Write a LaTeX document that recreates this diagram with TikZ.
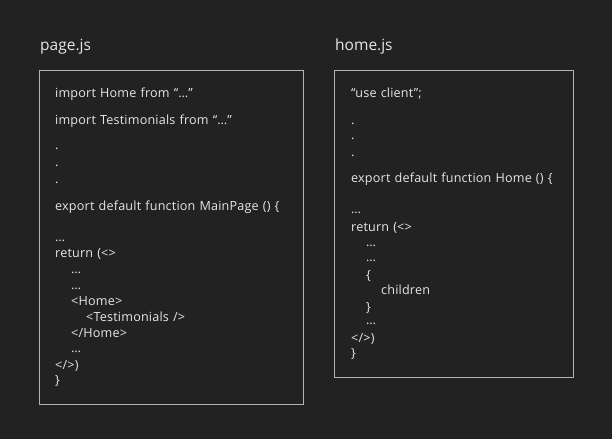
\documentclass[tikz,border=0pt]{standalone}
\usepackage{fontspec}
\setmainfont{Open Sans}
\newfontfamily\codefont[LetterSpace=1.5,WordSpace=1.2]{Open Sans}
\definecolor{bgc}{HTML}{222222}
\definecolor{txc}{HTML}{E6E6E6}
\definecolor{bdc}{HTML}{B4B4B4}
\begin{document}
\begin{tikzpicture}[x=1pt,y=-1pt,
  code/.style={anchor=base west,inner sep=0pt,text=txc,font=\codefont\fontsize{12.6}{14}\selectfont},
  ttl/.style={anchor=base west,inner sep=0pt,text=txc,font=\fontsize{15.5}{18}\selectfont},
  filebox/.style={draw=bdc,line width=0.8pt}]
\fill[bgc] (0,0) rectangle (612,439);
\useasboundingbox (0,0) rectangle (612,439);
% titles
\node[ttl] (t1) at (40,50) {page.js};
\node[ttl] (t2) at (335,50) {home.js};
% boxes
\draw[filebox] (39.5,70) rectangle (303,404);
\draw[filebox] (334.5,70) rectangle (573,377);
% left code
\node[code] (l1) at (55,97) {import Home from “…”};
\node[code] (l2) at (55,124) {import Testimonials from “…”};
\node[code] (l3) at (55,149) {.};
\node[code] (l4) at (55,166) {.};
\node[code] (l5) at (55,183) {.};
\node[code] (l6) at (55,210) {export default function MainPage () \{};
\node[code] (l7) at (55,241) {…};
\node[code] (l8) at (55,257) {return (<>};
\node[code] (l9) at (71,273) {…};
\node[code] (l10) at (71,289) {…};
\node[code] (l11) at (71,305) {<Home>};
\node[code] (l12) at (86,321) {<Testimonials />};
\node[code] (l13) at (71,337) {</Home>};
\node[code] (l14) at (71,352) {…};
\node[code] (l15) at (55,369) {</>)};
\node[code] (l16) at (55,384) {\}};
% right code
\node[code] (r1) at (351,97) {“use client”;};
\node[code] (r2) at (351,124) {.};
\node[code] (r3) at (351,139) {.};
\node[code] (r4) at (351,156) {.};
\node[code] (r5) at (351,182) {export default function Home () \{};
\node[code] (r6) at (351,213) {…};
\node[code] (r7) at (351,231) {return (<>};
\node[code] (r8) at (366,246) {…};
\node[code] (r9) at (366,261) {…};
\node[code] (r10) at (366,279) {\{};
\node[code] (r11) at (381,294) {children};
\node[code] (r12) at (366,311) {\}};
\node[code] (r13) at (366,324) {…};
\node[code] (r14) at (351,342) {</>)};
\node[code] (r15) at (351,357) {\}};
\end{tikzpicture}
\end{document}
